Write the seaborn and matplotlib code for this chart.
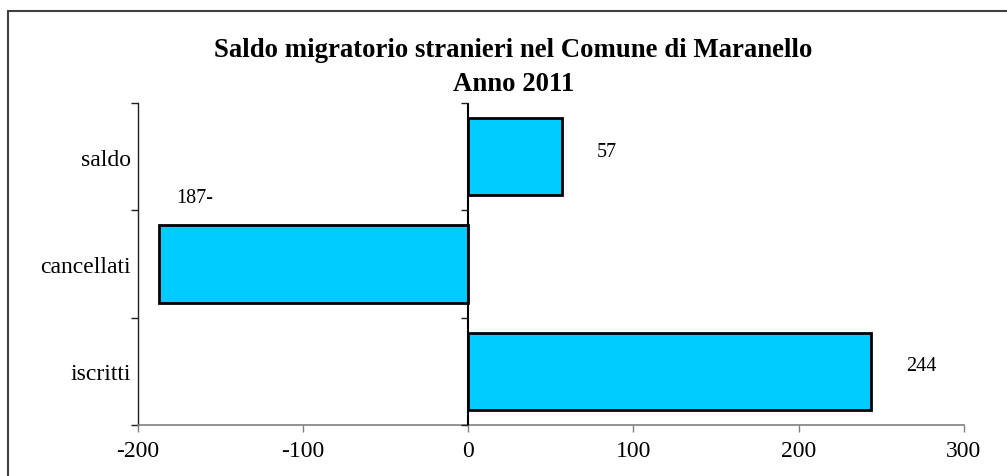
import numpy as np
import seaborn as sns
import matplotlib.pyplot as plt
from matplotlib.lines import Line2D

# Data
categories = ["saldo", "cancellati", "iscritti"]
values = [57, -187, 244]
label_texts = ["57", "187-", "244"]
title_lines = ["Saldo migratorio stranieri nel Comune di Maranello", "Anno 2011"]

sns.set_style("white")
plt.rcParams['font.family'] = ['Liberation Serif', 'DejaVu Serif']
plt.rcParams['axes.unicode_minus'] = False
plt.rcParams['text.color'] = 'black'
plt.rcParams['xtick.labelcolor'] = 'black'
plt.rcParams['ytick.labelcolor'] = 'black'

fig = plt.figure(figsize=(10.07, 4.77), dpi=100)
ax = fig.add_axes([0.137, 0.107, 0.820, 0.675])

sns.barplot(x=values, y=categories, order=categories, orient="h", ax=ax,
            color="#00CCFF", saturation=1, width=0.72,
            edgecolor="black", linewidth=2)

ax.set_xlim(-200, 300)
ax.set_ylim(2.5, -0.5)
ax.set_xticks([-200, -100, 0, 100, 200, 300])
ax.tick_params(axis="x", labelsize=17, length=5, width=1, color="#808080",
               direction="out", bottom=True, pad=6)
ax.set_yticks(range(len(categories)))
ax.set_yticklabels(categories)
ax.tick_params(axis="y", which="major", labelsize=17, length=0, pad=5)
bounds = np.arange(len(categories) + 1) - 0.5
ax.set_yticks(bounds, minor=True)
ax.tick_params(axis="y", which="minor", length=5, width=1, left=True, color="#202020")

for s in ["top", "right"]:
    ax.spines[s].set_visible(False)
ax.spines["left"].set_color("#202020")
ax.spines["left"].set_linewidth(1)
ax.spines["bottom"].set_color("#808080")
ax.spines["bottom"].set_linewidth(1.2)

# zero axis with its own tick marks
ax.axvline(0, color="black", lw=1.5, zorder=3)
ax.plot([0] * len(bounds), bounds, linestyle="none", marker=0, markersize=5,
        color="#202020", markeredgewidth=1, clip_on=False, zorder=3)

# data labels
for i, (v, t) in enumerate(zip(values, label_texts)):
    if v >= 0:
        ax.text(v + 21, i - 0.05, t, ha="left", va="center", fontsize=14.5)
    else:
        ax.text(v + 10, i - 0.62, t, ha="left", va="center", fontsize=14.5)

ax.set_xlabel("")
ax.set_ylabel("")

fig.text(0.51, 1 - 57 / 477, title_lines[0], ha="center", va="baseline",
         fontsize=19.3, fontweight="bold")
fig.text(0.51, 1 - 91 / 477, title_lines[1], ha="center", va="baseline",
         fontsize=19.3, fontweight="bold")

# outer chart frame (left and top edges)
fig.add_artist(Line2D([8 / 1007, 8 / 1007], [0, 1 - 12 / 477], color="#404040", lw=1.5))
fig.add_artist(Line2D([8 / 1007, 1], [1 - 12 / 477, 1 - 12 / 477], color="#404040", lw=1.5))

fig.savefig("out.png", dpi=100)
